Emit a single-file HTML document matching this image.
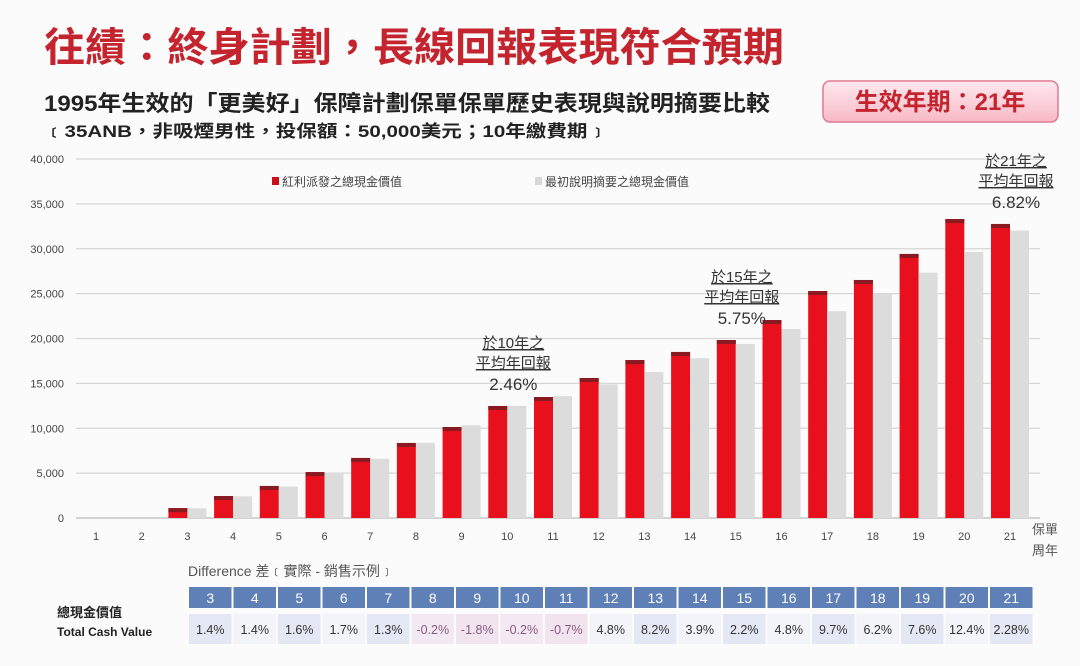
<!DOCTYPE html>
<html><head><meta charset="utf-8">
<style>
body{margin:0;width:1080px;height:666px;background:#fbfbfb;overflow:hidden;font-family:"Liberation Sans","Noto Sans CJK TC",sans-serif;}
svg{position:absolute;left:0;top:0}
</style></head>
<body>
<svg id="chart" width="1080" height="666">
  <text x="44" y="61" font-size="40" font-weight="bold" fill="#c3242e" textLength="740" lengthAdjust="spacingAndGlyphs" font-family="'Noto Sans CJK TC',sans-serif">往績：終身計劃，長線回報表現符合預期</text>
  <text x="44" y="111" font-size="22" font-weight="bold" fill="#222" textLength="726" lengthAdjust="spacingAndGlyphs" font-family="'Liberation Sans','Noto Sans CJK TC',sans-serif">1995年生效的「更美好」保障計劃保單保單歷史表現與說明摘要比較</text>
  <text x="44" y="137" font-size="17" font-weight="bold" fill="#222" textLength="564" lengthAdjust="spacingAndGlyphs" font-family="'Liberation Sans','Noto Sans CJK TC',sans-serif">﹝35ANB，非吸煙男性，投保額：50,000美元；10年繳費期﹞</text>
  <defs><linearGradient id="pg" x1="0" y1="0" x2="0" y2="1"><stop offset="0" stop-color="#ffe9ee"/><stop offset="1" stop-color="#f7b9c6"/></linearGradient></defs>
  <g>
    <rect x="823" y="81" width="235" height="41" rx="7" fill="url(#pg)" stroke="#e07a8e" stroke-width="1.5"/>
    <text x="940" y="110" font-size="24" font-weight="bold" fill="#c3242e" text-anchor="middle" font-family="'Liberation Sans','Noto Sans CJK TC',sans-serif">生效年期：21年</text>
  </g>
  <g id="grid"></g><g id="bars"></g><g id="axes"></g>
  <g font-size="12" fill="#444" font-family="'Noto Sans CJK TC',sans-serif">
    <rect x="272" y="177" width="7" height="8" fill="#c8101c"/>
    <text x="282" y="186">紅利派發之總現金價值</text>
    <rect x="535" y="177" width="7" height="8" fill="#d8d8d8"/>
    <text x="545" y="186">最初說明摘要之總現金價值</text>
  </g>
  <g id="annots" font-family="'Liberation Sans','Noto Sans CJK TC',sans-serif" fill="#333"></g>
  <text x="1045" y="534" font-size="13" fill="#555" text-anchor="middle" font-family="'Noto Sans CJK TC',sans-serif">保單</text>
  <text x="1045" y="555" font-size="13" fill="#555" text-anchor="middle" font-family="'Noto Sans CJK TC',sans-serif">周年</text>
  <text x="188" y="576" font-size="14" fill="#555" font-family="'Liberation Sans','Noto Sans CJK TC',sans-serif">Difference 差﹝實際 - 銷售示例﹞</text>
  <text x="57" y="617" font-size="13" font-weight="bold" fill="#222" font-family="'Noto Sans CJK TC',sans-serif">總現金價值</text>
  <text x="57" y="636" font-size="12" font-weight="bold" fill="#222">Total Cash Value</text>
  <g id="table"></g>
</svg>
<script>
const categories=[1,2,3,4,5,6,7,8,9,10,11,12,13,14,15,16,17,18,19,20,21];
const actualValues=[0,0,1100,2450,3570,5120,6690,8360,10140,12480,13480,15600,17600,18500,19830,22060,25290,26520,29420,33310,32760];
const illustratedValues=[0,0,1085,2415,3510,5030,6600,8380,10330,12500,13580,14890,16270,17800,19400,21050,23050,24970,27340,29640,32030];
const yTicks=[0,5000,10000,15000,20000,25000,30000,35000,40000];
const yTickLabels=["0","5,000","10,000","15,000","20,000","25,000","30,000","35,000","40,000"];
const tableYears=[3,4,5,6,7,8,9,10,11,12,13,14,15,16,17,18,19,20,21];
const diffLabels=["1.4%","1.4%","1.6%","1.7%","1.3%","-0.2%","-1.8%","-0.2%","-0.7%","4.8%","8.2%","3.9%","2.2%","4.8%","9.7%","6.2%","7.6%","12.4%","2.28%"];
const annotYears=[10,15,21];
const annotRates=["2.46%","5.75%","6.82%"];

const NS="http://www.w3.org/2000/svg";
function el(tag,attrs,parent,text){const e=document.createElementNS(NS,tag);for(const k in attrs)e.setAttribute(k,attrs[k]);if(text!==undefined)e.textContent=text;parent.appendChild(e);return e;}
const y0=518,yTop=159,yMax=40000;
function yScale(v){return y0-(v/yMax)*(y0-yTop);}
function xScale(c){return 96+(c-1)*45.7;}
const grid=document.getElementById('grid'),bars=document.getElementById('bars'),axes=document.getElementById('axes');
yTicks.forEach((t,i)=>{
  const g=el('line',{x1:76,x2:1040,y1:yScale(t),y2:yScale(t),stroke:i===0?'#bbb':'#d6d6d6','stroke-width':1.2},grid);
  
  
  const l=el('text',{x:64,y:yScale(t)+4,'font-size':11,fill:'#444','text-anchor':'end'},axes,yTickLabels[i]);
  
  
});
categories.forEach((c,i)=>{
  const cx=xScale(c),bw=19;
  if(actualValues[i]>0){
    const r=el('rect',{x:cx-bw,y:yScale(actualValues[i]),width:bw,height:y0-yScale(actualValues[i]),fill:'#e8101c'},bars);
    
    
    el('rect',{x:cx-bw,y:yScale(actualValues[i]),width:bw,height:4,fill:'#8a1a22'},bars);
  }
  if(illustratedValues[i]>0){
    const r=el('rect',{x:cx,y:yScale(illustratedValues[i]),width:bw,height:y0-yScale(illustratedValues[i]),fill:'#dcdcdc'},bars);
    
    
  }
  const t=el('text',{x:cx,y:540,'font-size':11,fill:'#444','text-anchor':'middle'},axes,c);
  
  
});
const an=document.getElementById('annots');
annotYears.forEach((yr,i)=>{
  const idx=categories.indexOf(yr);
  const cx=xScale(yr)+6, top=yScale(actualValues[idx])-18;
  const g=el('g',{},an);
  
  
  el('text',{x:cx,y:top-40,'font-size':15,'text-anchor':'middle','text-decoration':'underline'},g,'於'+yr+'年之');
  el('text',{x:cx,y:top-20,'font-size':15,'text-anchor':'middle','text-decoration':'underline'},g,'平均年回報');
  el('text',{x:cx,y:top+2,'font-size':17,'text-anchor':'middle'},g,annotRates[i]);
});
const tb=document.getElementById('table');
const tx0=188,cw=44.5;
tableYears.forEach((yr,i)=>{
  const x=tx0+i*cw;
  const h=el('rect',{x:x+1,y:587,width:cw-2,height:21,fill:'#5f7fb7'},tb);
  
  
  el('text',{x:x+cw/2,y:603,'font-size':14,fill:'#fff','text-anchor':'middle'},tb,yr);
  const neg=diffLabels[i].startsWith('-');
  const c=el('rect',{x:x+1,y:614,width:cw-2,height:30,fill:neg?(i%2?'#f3e9f2':'#f1e4ef'):(i%2?'#f3f4fa':'#e4e8f4')},tb);
  
  
  el('text',{x:x+cw/2,y:634,'font-size':12.5,fill:neg?'#8a5a80':'#333','text-anchor':'middle'},tb,diffLabels[i]);
});
</script>
</body></html>
